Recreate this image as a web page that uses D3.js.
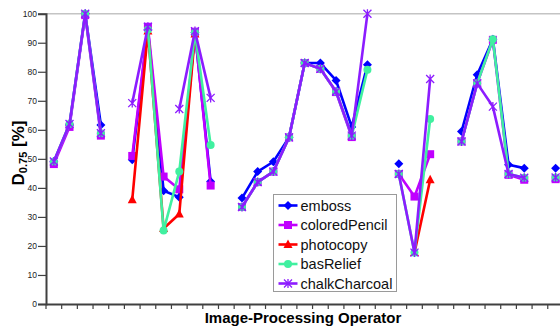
<!DOCTYPE html>
<html>
<head>
<meta charset="utf-8">
<script src="https://cdn.jsdelivr.net/npm/d3@7"></script>
<style>
  body { margin: 0; background: #fff; }
  svg { display: block; font-family: "Liberation Sans", Arial, sans-serif; }
</style>
</head>
<body>
<div id="chart"></div>
<script>
// 33 operators, unlabeled on the x axis; null = no value for that operator
const categories = d3.range(33);
const yTicks = [0, 10, 20, 30, 40, 50, 60, 70, 80, 90, 100];

const emboss = [49, 61.7, 100, 61.7, null, 49.7, 94.5, 39, 36.8, 93.5, 42.2, null,
  36.5, 45.6, 49, 57.4, 83, 83, 77, 61, 82.4, null, 48.3, null, null, null,
  59.4, 79, 91.2, 48, 46.8, null, 46.8];
const coloredPencil = [48.2, 61, 99.5, 58, null, 51, 95.5, 43.9, 39.5, 93.8, 40.8, null,
  33.4, 42, 45.6, 57.4, 83, 81, 73, 57.5, null, null, 44.8, 37, 51.6, null,
  56, 76, 91, 44.5, 42.8, null, 43];
const photocopy = [null, null, null, null, null, 35.9, 94, 26, 31, 93, null, null,
  null, null, null, null, null, null, null, null, null, null, null, 17.7, 42.8, null,
  null, null, null, null, null, null, null];
const basRelief = [49.1, 62, 100, 58.8, null, null, 94.5, 25.3, 45.6, 93.5, 54.8, null,
  33.4, 42, 45.6, 57.4, 83, 81, 73.2, 58, 80.7, null, 44.8, 17.7, 63.7, null,
  56, 76, 91.2, 44.8, 43.5, null, 43.6];
const chalkCharcoal = [49.1, 62, 100, 58.8, null, 69.2, 95.5, null, 67.2, 94, 71, null,
  33.4, 42, 45.6, 57.4, 83, 81, 73.2, 58, 100, null, 44.8, 17.7, 77.5, null,
  56, 76, 68, 44.8, 43.5, null, 43.6];

const series = [
  { name: 'emboss', values: emboss, color: '#0000ff', marker: 'diamond' },
  { name: 'coloredPencil', values: coloredPencil, color: '#c000ff', marker: 'square' },
  { name: 'photocopy', values: photocopy, color: '#ff0000', marker: 'triangle' },
  { name: 'basRelief', values: basRelief, color: '#40f0a0', marker: 'circle' },
  { name: 'chalkCharcoal', values: chalkCharcoal, color: '#8c1cff', marker: 'star' }
];

const W = 560, H = 327;
const svg = d3.select('#chart').append('svg').attr('width', W).attr('height', H);

const plotLeft = 46, plotBottom = 304, plotTop = 13.7;
const step = 15.68;
const x = d3.scaleBand().domain(categories).range([plotLeft, plotLeft + categories.length * step]).padding(0);
const y = d3.scaleLinear().domain([0, 100]).range([plotBottom, plotTop]);
const cx = i => x(i) + x.bandwidth() / 2;

// top border line at 100
svg.append('line')
  .attr('x1', plotLeft).attr('x2', W).attr('y1', y(100)).attr('y2', y(100))
  .attr('stroke', '#c4c4c4').attr('stroke-width', 1.5);

function drawMarker(g, type, px, py, color) {
  if (type === 'diamond') {
    g.append('path').attr('d', `M${px},${py - 4.5}L${px + 4.5},${py}L${px},${py + 4.5}L${px - 4.5},${py}Z`).attr('fill', color);
  } else if (type === 'square') {
    g.append('rect').attr('x', px - 4).attr('y', py - 4).attr('width', 8).attr('height', 8).attr('fill', color);
  } else if (type === 'triangle') {
    g.append('path').attr('d', `M${px},${py - 5}L${px + 4.5},${py + 3.5}L${px - 4.5},${py + 3.5}Z`).attr('fill', color);
  } else if (type === 'circle') {
    g.append('circle').attr('cx', px).attr('cy', py).attr('r', 4).attr('fill', color);
  } else {
    g.append('path')
      .attr('d', `M${px - 4},${py - 4}L${px + 4},${py + 4}M${px - 4},${py + 4}L${px + 4},${py - 4}M${px},${py - 4.5}L${px},${py + 4.5}`)
      .attr('stroke', color).attr('stroke-width', 1.3).attr('fill', 'none');
  }
}

const line = d3.line()
  .defined(d => d != null)
  .x((d, i) => cx(i))
  .y(d => y(d));

series.forEach(s => {
  const g = svg.append('g');
  g.append('path')
    .attr('d', line(s.values))
    .attr('fill', 'none')
    .attr('stroke', s.color)
    .attr('stroke-width', 2.6)
    .attr('stroke-linejoin', 'round');
  s.values.forEach((v, i) => {
    if (v != null) drawMarker(g, s.marker, cx(i), y(v), s.color);
  });
});

// axes
const yAxis = svg.append('g')
  .attr('transform', `translate(${plotLeft},0)`)
  .call(d3.axisLeft(y).tickValues(yTicks).tickSize(8).tickPadding(1));
yAxis.select('.domain').attr('stroke', '#404040').attr('stroke-width', 2);
yAxis.selectAll('.tick line').attr('stroke', '#404040').attr('stroke-width', 1.2);
yAxis.selectAll('.tick text').attr('font-size', 8.5).attr('fill', '#222')
  .attr('font-family', '"Liberation Sans", Arial, sans-serif');

const xAxis = svg.append('g')
  .attr('transform', `translate(0,${plotBottom})`)
  .call(d3.axisBottom(x).tickSize(0).tickFormat(''));
xAxis.select('.domain').attr('stroke', '#404040').attr('stroke-width', 2);
xAxis.selectAll('.tick').remove();
// tick marks between categories
xAxis.selectAll('.cat-tick')
  .data(categories)
  .enter().append('line')
  .attr('x1', d => x(d)).attr('x2', d => x(d))
  .attr('y1', 0).attr('y2', 5)
  .attr('stroke', '#404040').attr('stroke-width', 1.2);

// axis titles
svg.append('text')
  .attr('x', 303).attr('y', 323)
  .attr('text-anchor', 'middle')
  .attr('font-size', 15).attr('font-weight', 'bold')
  .text('Image-Processing Operator');

const yl = svg.append('text')
  .attr('transform', 'translate(24,153) rotate(-90)')
  .attr('text-anchor', 'middle')
  .attr('font-size', 17).attr('font-weight', 'bold');
yl.append('tspan').text('D');
yl.append('tspan').attr('font-size', 11).attr('dy', 3).text('0.75');
yl.append('tspan').attr('dy', -3).text(' [%]');

// legend
const lg = svg.append('g').attr('transform', 'translate(273.5,194.5)');
lg.append('rect').attr('width', 123).attr('height', 97)
  .attr('fill', '#fff').attr('stroke', '#9a9a9a').attr('stroke-width', 1);
series.forEach((s, i) => {
  const ly = 11 + i * 19.5;
  lg.append('line').attr('x1', 5).attr('x2', 24).attr('y1', ly).attr('y2', ly)
    .attr('stroke', s.color).attr('stroke-width', 2.6);
  drawMarker(lg, s.marker, 14.5, ly, s.color);
  lg.append('text').attr('x', 27).attr('y', ly + 5)
    .attr('font-size', 14.5).attr('fill', '#111').text(s.name);
});
</script>
</body>
</html>
